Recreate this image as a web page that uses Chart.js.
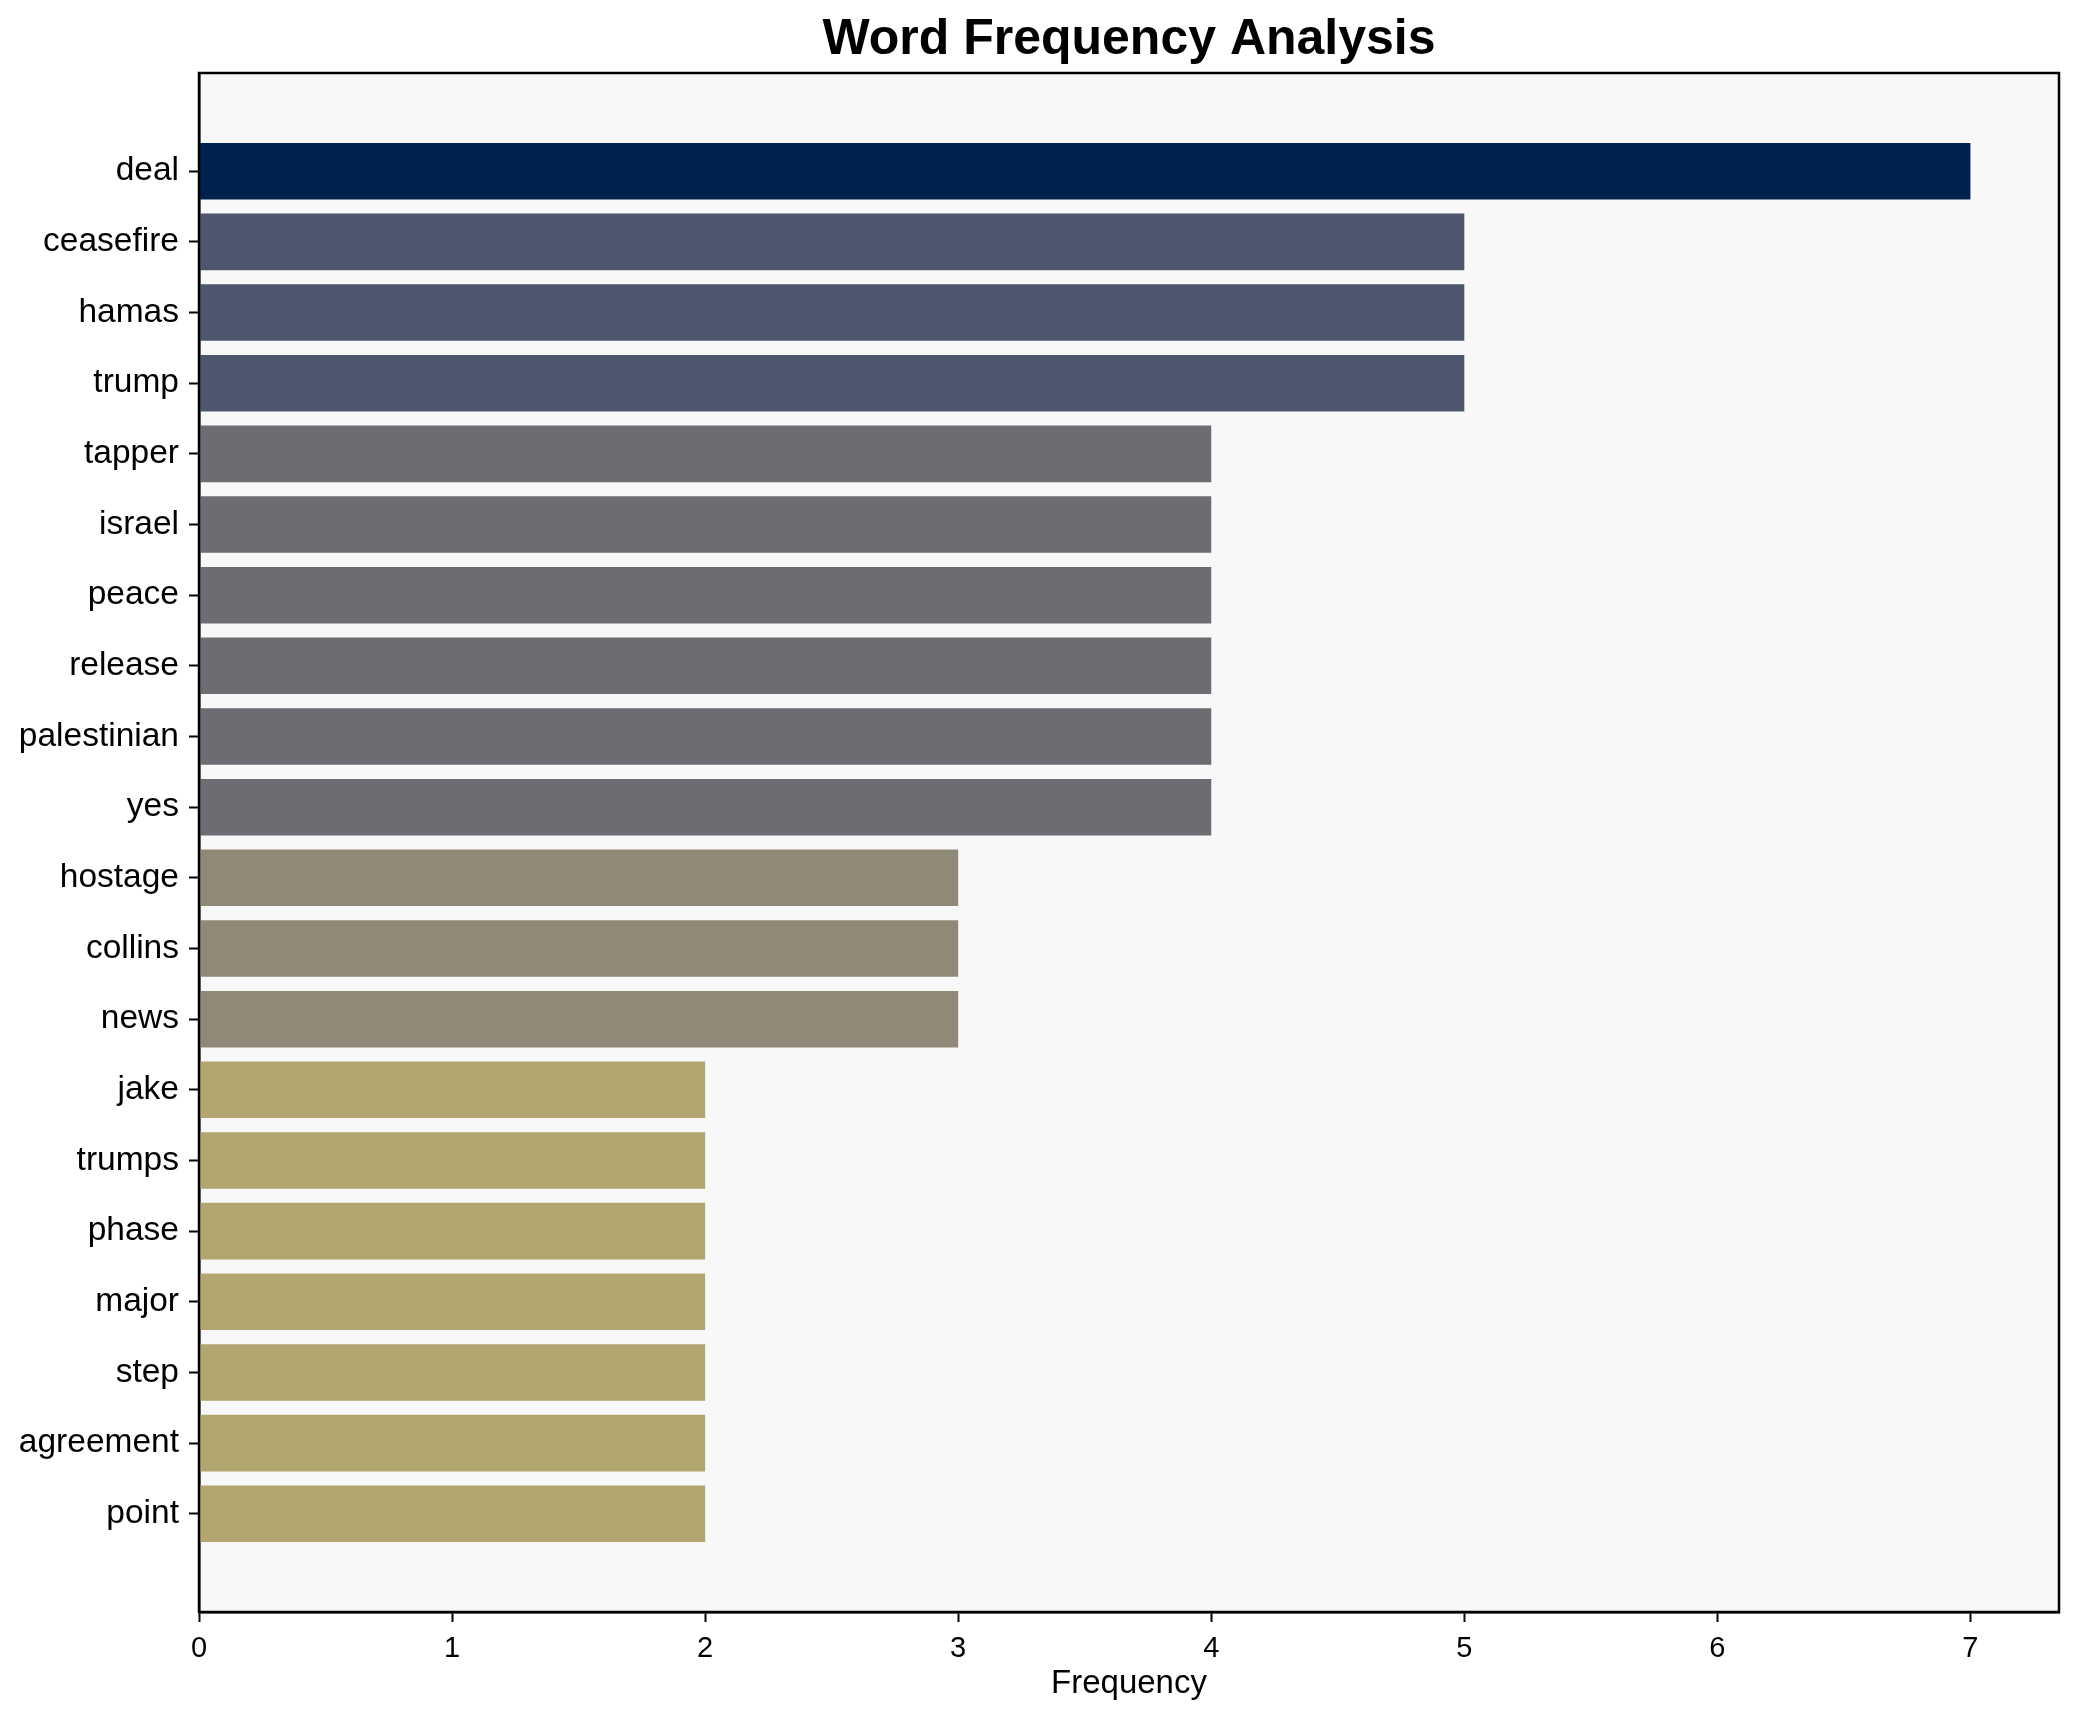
<!DOCTYPE html>
<html>
<head>
<meta charset="utf-8">
<script src="https://cdn.jsdelivr.net/npm/chart.js@4.4.1/dist/chart.umd.min.js"></script>
<style>
  html, body { margin: 0; padding: 0; background: #ffffff; }
  #wrap { width: 2079px; height: 1722px; }
</style>
</head>
<body>
<div id="wrap"><canvas id="barChart"></canvas></div>
<script>
// words and their counts, top to bottom
const words = ["deal", "ceasefire", "hamas", "trump", "tapper", "israel", "peace",
  "release", "palestinian", "yes", "hostage", "collins", "news", "jake", "trumps",
  "phase", "major", "step", "agreement", "point"];
const freq = [7, 5, 5, 5, 4, 4, 4, 4, 4, 4, 3, 3, 3, 2, 2, 2, 2, 2, 2, 2];
const xTicks = [0, 1, 2, 3, 4, 5, 6, 7];
const chartTitle = "Word Frequency Analysis";

// colour per count (cividis-like)
const colorFor = { 7: "#00224E", 5: "#4D566C", 4: "#6C6D72", 3: "#8F8A77", 2: "#B1A570" };

const FONT = "'Liberation Sans', Arial, Helvetica, sans-serif";

// plot background, box around it, and the title centred over the plot
const frame = {
  id: "frame",
  beforeDraw(chart) {
    const { ctx, chartArea: a } = chart;
    ctx.save();
    ctx.fillStyle = "#F8F8F8";
    ctx.fillRect(a.left, a.top, a.right - a.left, a.bottom - a.top);
    ctx.restore();
  },
  afterDraw(chart) {
    const { ctx, chartArea: a } = chart;
    ctx.save();
    ctx.strokeStyle = "#000";
    ctx.lineWidth = 2.5;
    ctx.strokeRect(a.left, a.top, a.right - a.left, a.bottom - a.top);
    ctx.fillStyle = "#000";
    ctx.font = "bold 50px " + FONT;
    ctx.textAlign = "center";
    ctx.textBaseline = "middle";
    ctx.fillText(chartTitle, (a.left + a.right) / 2, 40);
    ctx.restore();
  }
};

const n = words.length;
const yPad = (n - 1 + 0.8) * 0.05;
const xMax = Math.max(...freq) * 1.05;

new Chart(document.getElementById("barChart"), {
  type: "bar",
  data: {
    datasets: [{
      data: words.map((w, i) => ({ x: freq[i], y: i })),
      backgroundColor: freq.map(v => colorFor[v]),
      borderWidth: 0,
      barPercentage: 0.8,
      categoryPercentage: 1
    }]
  },
  options: {
    indexAxis: "y",
    responsive: true,
    maintainAspectRatio: false,
    devicePixelRatio: 1,
    animation: false,
    layout: { padding: { left: 0, right: 20, top: 73, bottom: 0 } },
    plugins: {
      legend: { display: false },
      tooltip: { enabled: false },
      title: { display: false }
    },
    scales: {
      y: {
        type: "linear",
        reverse: true,
        offset: false,
        min: -0.4 - yPad,
        max: n - 1 + 0.4 + yPad,
        afterBuildTicks: axis => {
          axis.ticks = words.map((w, i) => ({ value: i }));
        },
        afterFit: scale => { scale.width = 199; },
        ticks: {
          autoSkip: false,
          color: "#000",
          padding: 10,
          font: { family: FONT, size: 33.5 },
          callback: v => words[v]
        },
        grid: {
          offset: false,
          drawOnChartArea: false,
          drawTicks: true,
          tickLength: 10,
          tickColor: "#000",
          tickWidth: 2
        },
        border: { display: true, color: "#000", width: 2.5 }
      },
      x: {
        type: "linear",
        min: 0,
        max: xMax,
        afterBuildTicks: axis => {
          axis.ticks = xTicks.map(v => ({ value: v }));
        },
        afterFit: scale => { scale.height = 110; },
        ticks: {
          autoSkip: false,
          color: "#000",
          padding: 10,
          maxRotation: 0,
          font: { family: FONT, size: 29 },
          callback: v => String(v)
        },
        grid: {
          drawOnChartArea: false,
          drawTicks: true,
          tickLength: 10,
          tickColor: "#000",
          tickWidth: 2
        },
        border: { display: true, color: "#000", width: 2.5 },
        title: {
          display: true,
          text: "Frequency",
          color: "#000",
          font: { family: FONT, size: 33 },
          padding: { top: 0, bottom: 18 }
        }
      }
    }
  },
  plugins: [frame]
});
</script>
</body>
</html>
